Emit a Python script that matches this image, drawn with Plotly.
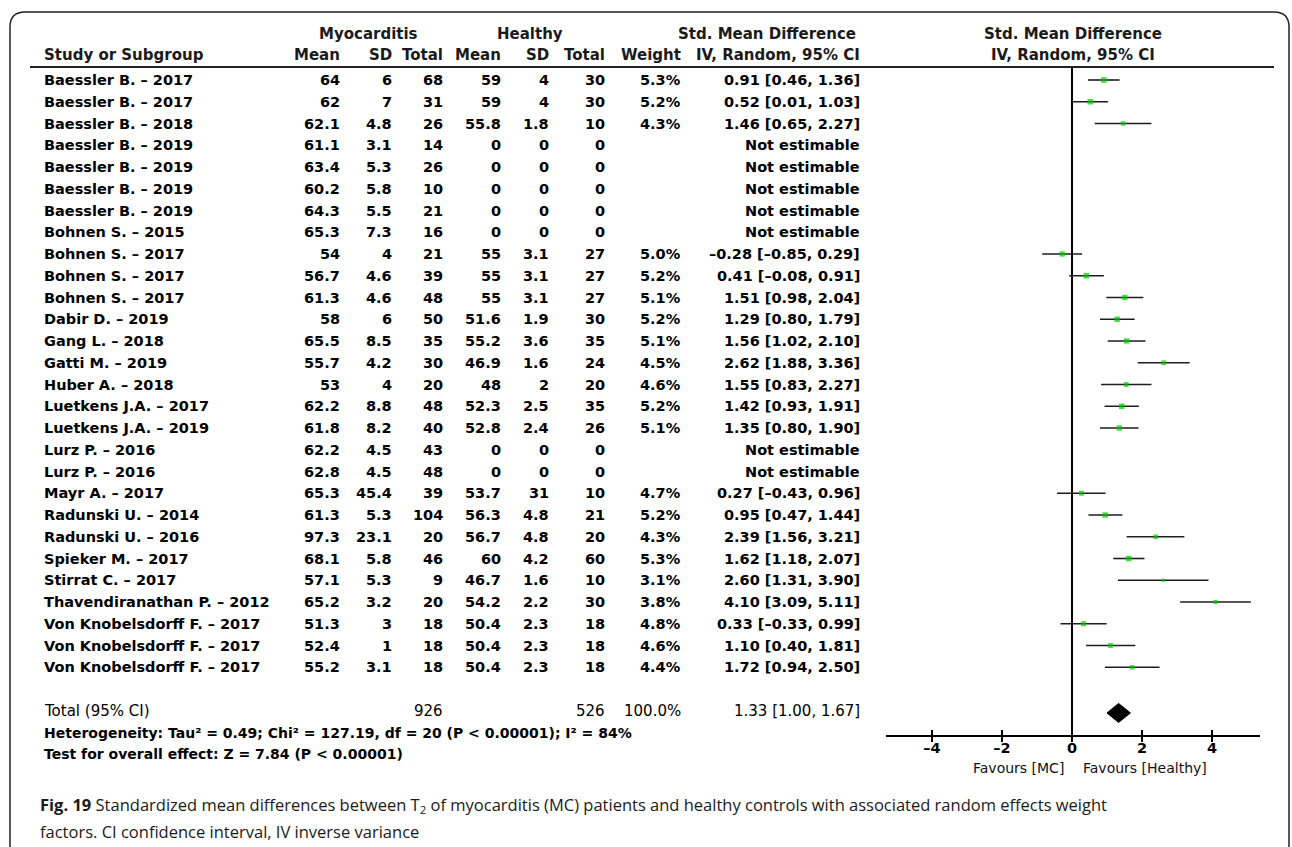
import plotly.graph_objects as go

# ---------------- data ----------------
studies = [
    "Baessler B. – 2017", "Baessler B. – 2017", "Baessler B. – 2018",
    "Baessler B. – 2019", "Baessler B. – 2019", "Baessler B. – 2019", "Baessler B. – 2019",
    "Bohnen S. – 2015", "Bohnen S. – 2017", "Bohnen S. – 2017", "Bohnen S. – 2017",
    "Dabir D. – 2019", "Gang L. – 2018", "Gatti M. – 2019", "Huber A. – 2018",
    "Luetkens J.A. – 2017", "Luetkens J.A. – 2019", "Lurz P. – 2016", "Lurz P. – 2016",
    "Mayr A. – 2017", "Radunski U. – 2014", "Radunski U. – 2016", "Spieker M. – 2017",
    "Stirrat C. – 2017", "Thavendiranathan P. – 2012",
    "Von Knobelsdorff F. – 2017", "Von Knobelsdorff F. – 2017", "Von Knobelsdorff F. – 2017",
]
mc_mean = [64, 62, 62.1, 61.1, 63.4, 60.2, 64.3, 65.3, 54, 56.7, 61.3, 58, 65.5, 55.7, 53,
           62.2, 61.8, 62.2, 62.8, 65.3, 61.3, 97.3, 68.1, 57.1, 65.2, 51.3, 52.4, 55.2]
mc_sd = [6, 7, 4.8, 3.1, 5.3, 5.8, 5.5, 7.3, 4, 4.6, 4.6, 6, 8.5, 4.2, 4,
         8.8, 8.2, 4.5, 4.5, 45.4, 5.3, 23.1, 5.8, 5.3, 3.2, 3, 1, 3.1]
mc_n = [68, 31, 26, 14, 26, 10, 21, 16, 21, 39, 48, 50, 35, 30, 20,
        48, 40, 43, 48, 39, 104, 20, 46, 9, 20, 18, 18, 18]
h_mean = [59, 59, 55.8, 0, 0, 0, 0, 0, 55, 55, 55, 51.6, 55.2, 46.9, 48,
          52.3, 52.8, 0, 0, 53.7, 56.3, 56.7, 60, 46.7, 54.2, 50.4, 50.4, 50.4]
h_sd = [4, 4, 1.8, 0, 0, 0, 0, 0, 3.1, 3.1, 3.1, 1.9, 3.6, 1.6, 2,
        2.5, 2.4, 0, 0, 31, 4.8, 4.8, 4.2, 1.6, 2.2, 2.3, 2.3, 2.3]
h_n = [30, 30, 10, 0, 0, 0, 0, 0, 27, 27, 27, 30, 35, 24, 20,
       35, 26, 0, 0, 10, 21, 20, 60, 10, 30, 18, 18, 18]
weight = [5.3, 5.2, 4.3, None, None, None, None, None, 5.0, 5.2, 5.1, 5.2, 5.1, 4.5, 4.6,
          5.2, 5.1, None, None, 4.7, 5.2, 4.3, 5.3, 3.1, 3.8, 4.8, 4.6, 4.4]
smd = [0.91, 0.52, 1.46, None, None, None, None, None, -0.28, 0.41, 1.51, 1.29, 1.56, 2.62, 1.55,
       1.42, 1.35, None, None, 0.27, 0.95, 2.39, 1.62, 2.60, 4.10, 0.33, 1.10, 1.72]
ci_lo = [0.46, 0.01, 0.65, None, None, None, None, None, -0.85, -0.08, 0.98, 0.80, 1.02, 1.88, 0.83,
         0.93, 0.80, None, None, -0.43, 0.47, 1.56, 1.18, 1.31, 3.09, -0.33, 0.40, 0.94]
ci_hi = [1.36, 1.03, 2.27, None, None, None, None, None, 0.29, 0.91, 2.04, 1.79, 2.10, 3.36, 2.27,
         1.91, 1.90, None, None, 0.96, 1.44, 3.21, 2.07, 3.90, 5.11, 0.99, 1.81, 2.50]

total_label = "Total (95% CI)"
total_mc_n = 926
total_h_n = 526
total_weight = 100.0
total_smd, total_lo, total_hi = 1.33, 1.00, 1.67
heterogeneity = "Heterogeneity: Tau² = 0.49; Chi² = 127.19, df = 20 (P < 0.00001); I² = 84%"
overall_test = "Test for overall effect: Z = 7.84 (P < 0.00001)"
x_ticks = [-4, -2, 0, 2, 4]
favours_left = "Favours [MC]"
favours_right = "Favours [Healthy]"
caption1 = ("<b>Fig. 19</b> Standardized mean differences between T<sub>2</sub> of myocarditis (MC) "
            "patients and healthy controls with associated random effects weight")
caption2 = "factors. CI confidence interval, IV inverse variance"

# ---------------- layout geometry (pixels) ----------------
W, H = 1292, 847
ROW0, ROWH = 80, 21.75
Y_TOP, Y_AXIS = 67, 735
X0_PX, PX_PER_UNIT = 1072, 35.0
AX_L, AX_R = 886, 1260


def px_x(x):
    return x / W


def px_y(y):
    return 1 - y / H


def row_of(py):
    return (py - ROW0) / ROWH


def py_of(row):
    return ROW0 + row * ROWH


def fmt_num(v):
    return f"{v:g}"


def fmt_ci(e, l, h):
    s = f"{e:.2f} [{l:.2f}, {h:.2f}]"
    return s.replace("-", "–")


n = len(studies)
rows = list(range(n))
total_row = n + 1
het_row = n + 2
test_row = n + 3

fig = go.Figure()

# CI lines
lx, ly = [], []
for r, l, h in zip(rows, ci_lo, ci_hi):
    if l is None:
        continue
    lx += [l, h, None]
    ly += [r, r, None]
fig.add_trace(go.Scatter(x=lx, y=ly, mode="lines", line=dict(color="#1e1e1e", width=1.6),
                         hoverinfo="skip", showlegend=False))

# squares
sx = [e for e in smd if e is not None]
sy = [r for r, e in zip(rows, smd) if e is not None]
ss = [w * 1.05 for w in weight if w is not None]
fig.add_trace(go.Scatter(x=sx, y=sy, mode="markers",
                         marker=dict(symbol="square", color="#00c800", size=ss, line=dict(width=0)),
                         hoverinfo="skip", showlegend=False))

# diamond
dh = 9.5 / ROWH
dr = total_row + 0.1
fig.add_trace(go.Scatter(
    x=[total_lo, total_smd, total_hi, total_smd, total_lo],
    y=[dr, dr - dh, dr, dr + dh, dr],
    mode="lines", fill="toself", fillcolor="black", line=dict(color="black", width=1),
    hoverinfo="skip", showlegend=False))

# invisible trace for the overlay axis (cross ticks)
fig.add_trace(go.Scatter(x=[0], y=[0], mode="markers", marker=dict(opacity=0), xaxis="x2",
                         hoverinfo="skip", showlegend=False))

xr = [(AX_L - X0_PX) / PX_PER_UNIT, (AX_R - X0_PX) / PX_PER_UNIT]
xdom = [px_x(AX_L), px_x(AX_R)]
fig.update_layout(
    width=W, height=H, margin=dict(l=0, r=0, t=0, b=0),
    paper_bgcolor="white", plot_bgcolor="rgba(0,0,0,0)",
    xaxis=dict(domain=xdom, range=xr, anchor="y", showgrid=False,
               showline=True, linecolor="black", linewidth=1.6,
               ticks="outside", ticklen=5, tickwidth=1.6, tickcolor="black",
               ticklabelstandoff=-6,
               tickvals=x_ticks, ticktext=[str(t).replace("-", "–") for t in x_ticks],
               tickfont=dict(family="DejaVu Sans", size=14.5, color="black", weight="bold"),
               zeroline=True, zerolinecolor="black", zerolinewidth=1.6, fixedrange=True),
    xaxis2=dict(domain=xdom, range=xr, anchor="y", overlaying="x", showgrid=False,
                showline=False, zeroline=False, ticks="inside", ticklen=5, tickwidth=1.6,
                tickcolor="black", tickvals=x_ticks, showticklabels=False, side="bottom"),
    yaxis=dict(domain=[px_y(Y_AXIS), px_y(Y_TOP)], range=[row_of(Y_AXIS), row_of(Y_TOP)],
               visible=False, showgrid=False, zeroline=False, fixedrange=True),
)

# ---------------- table text ----------------
HDR = dict(family="DejaVu Sans", size=15, color="#1a1a1a", weight="bold")
DATA = dict(family="DejaVu Sans", size=14.5, color="black", weight="bold")
TOT = dict(family="DejaVu Sans", size=15, color="black")
FOOT = dict(family="DejaVu Sans", size=14, color="black", weight="bold")

ann = []


def txt(text, x, y, font, xanchor="right", yref="y"):
    ann.append(dict(text=text, x=px_x(x), xref="paper", y=y, yref=yref,
                    xanchor=xanchor, yanchor="middle", showarrow=False, font=font))


COL_NAME = 42
COL = dict(mc_mean=342, mc_sd=394, mc_n=445, h_mean=503, h_sd=551, h_n=607, w=683, ci=862)

# headers
H1, H2 = px_y(34), px_y(55)
ann.append(dict(text="Myocarditis", x=px_x(368), xref="paper", y=H1, yref="paper",
                xanchor="center", yanchor="middle", showarrow=False, font=HDR))
ann.append(dict(text="Healthy", x=px_x(530), xref="paper", y=H1, yref="paper",
                xanchor="center", yanchor="middle", showarrow=False, font=HDR))
txt("Std. Mean Difference", 858, H1, HDR, yref="paper")
txt("Study or Subgroup", COL_NAME, H2, HDR, xanchor="left", yref="paper")
for key, lab in [("mc_mean", "Mean"), ("mc_sd", "SD"), ("mc_n", "Total"), ("h_mean", "Mean"),
                 ("h_sd", "SD"), ("h_n", "Total"), ("w", "Weight"), ("ci", "IV, Random, 95% CI")]:
    txt(lab, COL[key], H2, HDR, yref="paper")
ann.append(dict(text="Std. Mean Difference", x=px_x(1073), xref="paper", y=H1, yref="paper",
                xanchor="center", yanchor="middle", showarrow=False, font=HDR))
ann.append(dict(text="IV, Random, 95% CI", x=px_x(1073), xref="paper", y=H2, yref="paper",
                xanchor="center", yanchor="middle", showarrow=False, font=HDR))

# rows
for i in rows:
    txt(studies[i], COL_NAME, i, DATA, xanchor="left")
    txt(fmt_num(mc_mean[i]), COL["mc_mean"], i, DATA)
    txt(fmt_num(mc_sd[i]), COL["mc_sd"], i, DATA)
    txt(fmt_num(mc_n[i]), COL["mc_n"], i, DATA)
    txt(fmt_num(h_mean[i]), COL["h_mean"], i, DATA)
    txt(fmt_num(h_sd[i]), COL["h_sd"], i, DATA)
    txt(fmt_num(h_n[i]), COL["h_n"], i, DATA)
    if weight[i] is not None:
        txt(f"{weight[i]:.1f}%", COL["w"], i, DATA)
        txt(fmt_ci(smd[i], ci_lo[i], ci_hi[i]), COL["ci"], i, DATA)
    else:
        txt("Not estimable", COL["ci"], i, DATA)

# total + footers
txt(total_label, COL_NAME, total_row, TOT, xanchor="left")
txt(str(total_mc_n), COL["mc_n"], total_row, TOT)
txt(str(total_h_n), COL["h_n"], total_row, TOT)
txt(f"{total_weight:.1f}%", COL["w"], total_row, TOT)
txt(fmt_ci(total_smd, total_lo, total_hi), COL["ci"], total_row, TOT)
txt(heterogeneity, COL_NAME, px_y(py_of(het_row)), FOOT, xanchor="left", yref="paper")
txt(overall_test, COL_NAME, px_y(py_of(test_row)), FOOT, xanchor="left", yref="paper")

# favours labels
FAV = dict(family="DejaVu Sans", size=14, color="#111111")
ann.append(dict(text=favours_left, x=px_x(1066), xref="paper", y=px_y(768), yref="paper",
                xanchor="right", yanchor="middle", showarrow=False, font=FAV))
ann.append(dict(text=favours_right, x=px_x(1081), xref="paper", y=px_y(768), yref="paper",
                xanchor="left", yanchor="middle", showarrow=False, font=FAV))

# caption
CAP = dict(family="Open Sans", size=16.5, color="#1a1a1a")
ann.append(dict(text=caption1, x=px_x(38), xref="paper", y=px_y(805), yref="paper",
                xanchor="left", yanchor="middle", showarrow=False, font=CAP))
ann.append(dict(text=caption2, x=px_x(38), xref="paper", y=px_y(831), yref="paper",
                xanchor="left", yanchor="middle", showarrow=False, font=CAP))

fig.update_layout(annotations=ann)

# ---------------- decorations ----------------
def P(x, y):
    return f"{px_x(x):.5f},{px_y(y):.5f}"


border = (f"M {P(10, 850)} L {P(10, 27)} Q {P(10, 12)} {P(25, 12)} "
          f"L {P(1274, 12)} Q {P(1289, 12)} {P(1289, 27)} L {P(1289, 850)}")
fig.add_shape(type="path", path=border, xref="paper", yref="paper",
              line=dict(color="#222222", width=1.5))
fig.add_shape(type="line", x0=px_x(30), x1=px_x(1274), y0=px_y(Y_TOP), y1=px_y(Y_TOP),
              xref="paper", yref="paper", line=dict(color="#222222", width=2))

fig.write_html("out.html",
               config={"displayModeBar": False, "staticPlot": True},
               post_script="document.body.style.margin='0px';document.body.style.overflow='hidden';")
